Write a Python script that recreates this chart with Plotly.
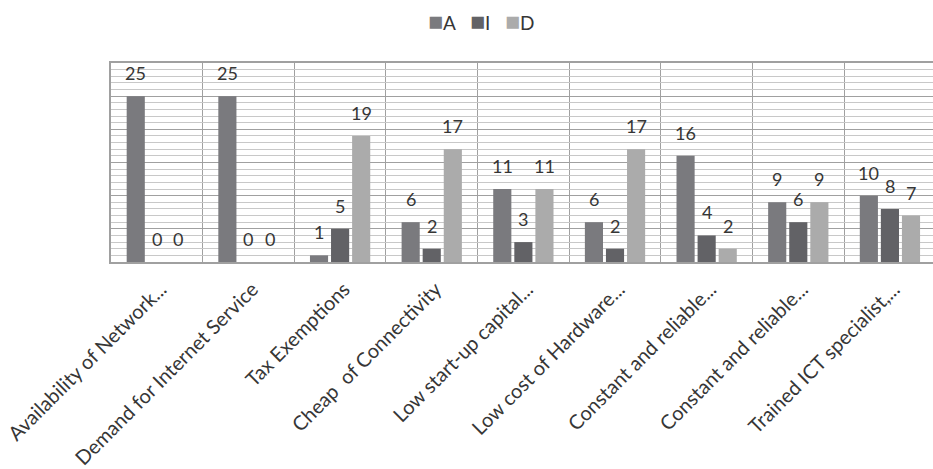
import plotly.graph_objects as go

categories = [
    "Availability of Network...",
    "Demand for Internet Service",
    "Tax Exemptions",
    "Cheap\u00a0 of Connectivity",
    "Low start-up capital...",
    "Low cost of Hardware...",
    "Constant and reliable...",
    "Constant and reliable...",
    "Trained ICT specialist,...",
]
series_names = ["A", "I", "D"]
values_A = [25, 25, 1, 6, 11, 6, 16, 9, 10]
values_I = [0, 0, 5, 2, 3, 2, 4, 6, 8]
values_D = [0, 0, 19, 17, 11, 17, 2, 9, 7]
colors = ["#7a7a7e", "#626266", "#ababab"]

FONT = "Lato"
TXT = "#363636"
BARGAP = 0.31
BARGROUPGAP = 0.14

series = [values_A, values_I, values_D]
x = list(range(len(categories)))

fig = go.Figure()
for name, vals, col in zip(series_names, series, colors):
    fig.add_bar(x=x, y=vals, name=name, marker_color=col, marker_line_width=0,
                showlegend=False, hoverinfo="skip")

slot = (1 - BARGAP) / len(series)
for k, vals in enumerate(series):
    for i, v in enumerate(vals):
        fig.add_annotation(x=i + (k - 1) * slot, y=v, text=str(v), showarrow=False,
                           yshift=23, yanchor="middle",
                           font=dict(family=FONT, size=18, color=TXT))

legend_text = "&nbsp;&nbsp;&nbsp;".join(
    f"<span style='color:{c};font-size:25px'>■</span>{n}"
    for n, c in zip(series_names, colors)
)
fig.add_annotation(x=0.4507, y=1.216, xref="paper", yref="paper", text=legend_text,
                   showarrow=False, xanchor="center", yanchor="middle",
                   font=dict(family=FONT, size=19, color=TXT))

fig.update_layout(
    width=933, height=469,
    margin=dict(l=111, r=0, t=63, b=207, autoexpand=False),
    plot_bgcolor="white", paper_bgcolor="white",
    barmode="group", bargap=BARGAP, bargroupgap=BARGROUPGAP,
    font=dict(family=FONT, color=TXT),
)
fig.update_xaxes(
    range=[-0.5, 8.47], tickmode="array", tickvals=x, ticktext=categories,
    tickangle=-45, tickfont=dict(family=FONT, size=20, color=TXT),
    showgrid=False, zeroline=False, ticks="", automargin=False,
    ticklabeloverflow="allow",
    showline=True, linecolor="#a0a0a0", linewidth=1.5, mirror=True,
    minor=dict(tickvals=[i + 0.5 for i in range(-1, len(categories))],
               showgrid=True, gridcolor="#a0a0a0", gridwidth=1, ticks=""),
    ticklabelstandoff=6, ticklabelshift=4,
)
fig.update_yaxes(
    range=[0, 30], dtick=5, showticklabels=False, ticks="", automargin=False,
    gridcolor="#a0a0a0", gridwidth=1, zeroline=False,
    showline=True, linecolor="#a0a0a0", linewidth=1.5,
    minor=dict(dtick=1, showgrid=True, gridcolor="#c8c8c8", gridwidth=1, ticks=""),
)

fig.write_html(
    "out.html",
    config={"displayModeBar": False},
    post_script="document.body.style.margin='0';document.body.style.padding='0';",
)
